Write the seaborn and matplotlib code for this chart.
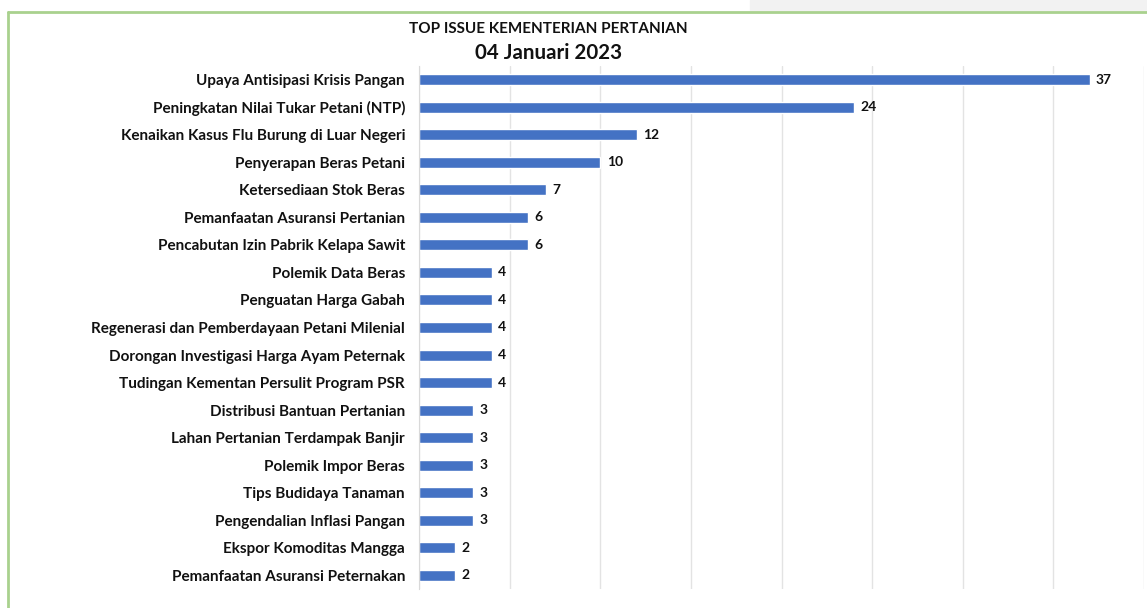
import matplotlib
matplotlib.use("Agg")
import matplotlib.pyplot as plt
import matplotlib.patches as patches
import seaborn as sns
import pandas as pd
import numpy as np

# data
issues = [
    "Upaya Antisipasi Krisis Pangan",
    "Peningkatan Nilai Tukar Petani (NTP)",
    "Kenaikan Kasus Flu Burung di Luar Negeri",
    "Penyerapan Beras Petani",
    "Ketersediaan Stok Beras",
    "Pemanfaatan Asuransi Pertanian",
    "Pencabutan Izin Pabrik Kelapa Sawit",
    "Polemik Data Beras",
    "Penguatan Harga Gabah",
    "Regenerasi dan Pemberdayaan Petani Milenial",
    "Dorongan Investigasi Harga Ayam Peternak",
    "Tudingan Kementan Persulit Program PSR",
    "Distribusi Bantuan Pertanian",
    "Lahan Pertanian Terdampak Banjir",
    "Polemik Impor Beras",
    "Tips Budidaya Tanaman",
    "Pengendalian Inflasi Pangan",
    "Ekspor Komoditas Mangga",
    "Pemanfaatan Asuransi Peternakan",
]
counts = [37, 24, 12, 10, 7, 6, 6, 4, 4, 4, 4, 4, 3, 3, 3, 3, 3, 2, 2]

title_top = "TOP ISSUE KEMENTERIAN PERTANIAN"
title_date = "04 Januari 2023"

df = pd.DataFrame({"issue": issues, "count": counts})

sns.set_style("white")
plt.rcParams["font.family"] = ["Lato", "DejaVu Sans"]

fig = plt.figure(figsize=(11.47, 6.08), dpi=100)
ax = fig.add_axes([0.3653, 0.0313, 0.6321, 0.8601])

sns.barplot(data=df, y="issue", x="count", color="#4472C4", width=0.4,
            saturation=1, ax=ax, orient="h")

ax.set_xlim(0, 40)
ax.set_ylim(len(issues) - 0.5, -0.5)
ax.set_xticks(np.arange(0, 41, 5))
ax.set_xticklabels([])
ax.xaxis.grid(True, color="#e3e3e3", linewidth=1)
ax.set_axisbelow(True)
ax.set_xlabel("")
ax.set_ylabel("")

for s in ["top", "right", "bottom"]:
    ax.spines[s].set_visible(False)
ax.spines["left"].set_color("#d9d9d9")
ax.tick_params(axis="x", length=0)
ax.tick_params(axis="y", length=0, pad=10)
ax.set_yticks(np.arange(-0.5, len(issues), 1), minor=True)
ax.tick_params(axis="y", which="minor", length=4, color="#d9d9d9", direction="out")
for lab in ax.get_yticklabels():
    lab.set_fontsize(11)
    lab.set_fontweight("bold")
    lab.set_color("#111111")

for i, v in enumerate(counts):
    ax.text(v + 0.35, i, str(v), va="center", ha="left", fontsize=10,
            fontweight="bold", color="#111111")

fig.text(0.478, 0.953, title_top, ha="center", va="center", fontsize=11,
         fontweight="bold", color="#111111")
fig.text(0.478, 0.913, title_date, ha="center", va="center", fontsize=14.8,
         fontweight="bold", color="#111111")

# frame of the screenshot
fig.patches.append(patches.Rectangle((0.654, 0.984), 0.346, 0.016,
                                     transform=fig.transFigure,
                                     color="#f2f2f2", zorder=0))
fig.add_artist(plt.Line2D([0.007, 1.0], [0.980, 0.980], transform=fig.transFigure,
                          color="#a9d18e", linewidth=2))
fig.add_artist(plt.Line2D([0.007, 0.007], [0.0, 0.980], transform=fig.transFigure,
                          color="#a9d18e", linewidth=2))

fig.savefig("out.png", dpi=100)
